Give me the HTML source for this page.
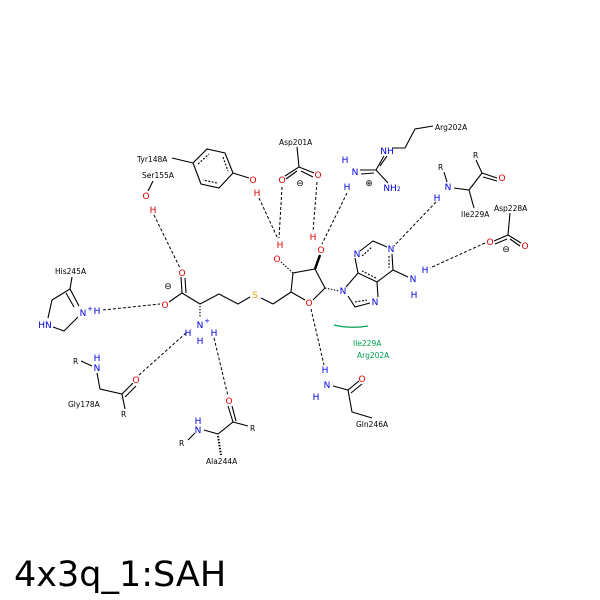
<!DOCTYPE html>
<html><head><style>body{margin:0;background:#fff}svg{display:block}</style></head><body>
<svg width="600" height="600" viewBox="0 0 600 600" xmlns="http://www.w3.org/2000/svg" font-family="DejaVu Sans, Liberation Sans, sans-serif">
<rect width="600" height="600" fill="#fff"/>
<g stroke="#000" stroke-width="1.1" fill="none">
<!-- Tyr -->
<path d="M172,158 L193,163"/>
<path d="M193,163 L207,149 L225,153 L233,173 L219,188 L201,184 Z"/>
<path d="M198,164 L209,154 M223,157 L228,171 M217,183 L203,180" stroke-dasharray="2,1.5"/>
<path d="M233,173 L249,178"/>
<!-- Ser -->
<path d="M153,181 L148,191"/>
<!-- Asp201 -->
<path d="M297,147 L299,167 L285,176 M299,167 L314,173 M297,171 L286,179 M301,171 L313,177"/>
<!-- His -->
<path d="M72,277 L70,289 L52,300 L48,318 M53,327 L64,331 L78,317 M70,289 L79,306 M66,293 L74,307"/>
<!-- SAH chain -->
<path d="M181,277 L182,293 L169,302 M185,278 L186,293 M182,293 L200,304 L219,294 L238,304 L250,297 M261,298 L273,304"/>
<path d="M200,306 L200,318" stroke-dasharray="1.5,1.5"/>
<path d="M273,304 L291,292 L293,273 L315,269 L325,288 L313,300 M305,300 L291,292"/>
<path d="M293,273 L281,262" stroke-dasharray="1.5,1.5"/>
<path d="M315,269 L320,255" stroke-width="2.5"/>
<path d="M325,288 L339,291" stroke-dasharray="1.5,1.5"/>
<!-- adenine -->
<path d="M358,273 L355,258 M360,251 L373,241 L387,247 M392,254 L393,270 L377,282 L358,273 L346,287 M348,296 L355,307 L370,303 M378,297 L377,282 M393,270 L408,277"/>
<path d="M362,256 L372,247 M389,256 L389,268 M376,278 L362,271 M355,302 L367,300" stroke-dasharray="2,1.5"/>
<!-- Arg -->
<path d="M360,170 L376,170 L384,156 M376,170 L388,183 M361,174 L374,173 M380,166 L387,156 M392,148 L405,148 L415,129 L433,126"/>
<!-- Ile229 -->
<path d="M444,172 L447,182 M454,188 L469,190 L482,173 L476,160 M482,173 L497,178 M483,177 L497,181 M469,190 L474,208"/>
<!-- Asp228 -->
<path d="M510,213 L508,235 L494,241 M508,235 L521,243 M507,239 L495,244 M510,239 L520,246"/>
<!-- Gly -->
<path d="M81,361 L92,366 M97,373 L100,389 L122,394 L133,383 M125,397 L136,386 M122,394 L125,409"/>
<!-- Ala -->
<path d="M188,440 L195,433 M204,430 L218,434 L233,422 L248,426 M233,422 L228,406 M236,421 L232,406"/>
<path d="M218,436 L221,455" stroke-dasharray="1.5,1.5" stroke-width="2"/>
<!-- Gln -->
<path d="M333,386 L348,390 L359,381 M351,393 L362,384 M348,390 L352,412 L372,418"/>
</g>
<!-- H-bonds -->
<g stroke="#000" stroke-width="1" stroke-dasharray="3,2" fill="none">
<path d="M154,215 L180,268"/>
<path d="M103,310 L160,304"/>
<path d="M259,198 L278,239"/>
<path d="M282,187 L279,238"/>
<path d="M317,182 L313,232"/>
<path d="M347,193 L322,244"/>
<path d="M436,202 L394,246"/>
<path d="M485,243 L430,268"/>
<path d="M186,333 L139,375"/>
<path d="M214,338 L228,396"/>
<path d="M311,309 L324,365"/>
</g>
<path d="M334,325 Q350,329 368,326" stroke="#00a050" stroke-width="1.2" fill="none"/>
<g font-size="7.5" fill="#000">
<text x="137" y="162">Tyr148A</text>
<text x="142" y="178">Ser155A</text>
<text x="279" y="145">Asp201A</text>
<text x="55" y="274">His245A</text>
<text x="435" y="130">Arg202A</text>
<text x="461" y="217">Ile229A</text>
<text x="494" y="211">Asp228A</text>
<text x="68" y="407">Gly178A</text>
<text x="206" y="464">Ala244A</text>
<text x="356" y="427">Gln246A</text>
<text x="73" y="364">R</text>
<text x="121" y="417">R</text>
<text x="179" y="446">R</text>
<text x="250" y="431">R</text>
<text x="438" y="170">R</text>
<text x="473" y="158">R</text>
</g>
<g font-size="9" fill="#e00000" text-anchor="middle">
<text x="253" y="183">O</text><text x="257" y="196">H</text>
<text x="146" y="199">O</text><text x="153" y="213">H</text>
<text x="282" y="183">O</text><text x="318" y="178">O</text>
<text x="182" y="276">O</text><text x="165" y="308">O</text>
<text x="277" y="262">O</text><text x="280" y="248">H</text>
<text x="321" y="253">O</text><text x="313" y="240">H</text>
<text x="309" y="306">O</text>
<text x="502" y="181">O</text>
<text x="490" y="245">O</text><text x="525" y="249">O</text>
<text x="136" y="383">O</text>
<text x="229" y="404">O</text>
<text x="362" y="382">O</text>
</g>
<text x="255" y="298" font-size="9" fill="#e8a000" text-anchor="middle">S</text>
<g font-size="9" fill="#0000e0" text-anchor="middle">
<text x="83" y="316">N</text><text x="90" y="311" font-size="7">+</text><text x="97" y="314">H</text>
<text x="45" y="328">HN</text>
<text x="200" y="328">N</text><text x="207" y="323" font-size="7">+</text>
<text x="188" y="336">H</text><text x="200" y="344">H</text><text x="214" y="336">H</text>
<text x="357" y="257">N</text><text x="391" y="252">N</text><text x="343" y="294">N</text><text x="375" y="305">N</text>
<text x="413" y="282">N</text><text x="425" y="273">H</text><text x="414" y="298">H</text>
<text x="355" y="175">N</text><text x="345" y="163">H</text><text x="347" y="190">H</text>
<text x="387" y="154">NH</text>
<text x="392" y="191">NH<tspan font-size="6">2</tspan></text>
<text x="448" y="190">N</text><text x="437" y="201">H</text>
<text x="97" y="371">N</text><text x="97" y="361">H</text>
<text x="198" y="433">N</text><text x="198" y="424">H</text>
<text x="325" y="373">H</text><text x="327" y="388">N</text><text x="316" y="400">H</text>
</g>
<g font-size="9" fill="#000" text-anchor="middle">
<text x="300" y="186">⊖</text><text x="168" y="289">⊖</text><text x="506" y="252">⊖</text><text x="369" y="186">⊕</text>
</g>
<g font-size="7.5" fill="#00a050">
<text x="353" y="346">Ile229A</text>
<text x="357" y="358">Arg202A</text>
</g>
<text x="14" y="586" font-size="35" font-family="DejaVu Sans, Liberation Sans, sans-serif" fill="#000">4x3q_1:SAH</text>
</svg>
</body></html>
